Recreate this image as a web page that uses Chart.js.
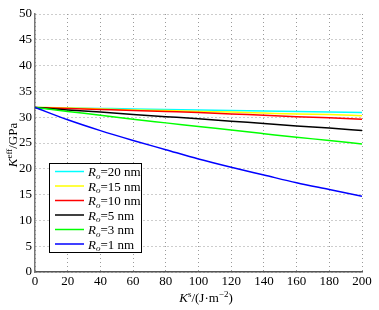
<!DOCTYPE html>
<html>
<head>
<meta charset="utf-8">
<script src="https://cdn.jsdelivr.net/npm/chart.js@4"></script>
<style>
  html, body { margin: 0; padding: 0; background: #fff; }
  #wrap { width: 379px; height: 310px; }
</style>
</head>
<body>
<div id="wrap"><canvas id="chart" width="379" height="310"></canvas></div>
<script>
  // surface energy K^s (J/m^2)
  var ksValues = [0, 20, 40, 60, 80, 100, 120, 140, 160, 180, 200];
  var radii = [20, 15, 10, 5, 3, 1]; // R_o in nm
  var colors = ['#00FFFF', '#FFFF00', '#FF0000', '#000000', '#00FF00', '#0000FF'];

  // K^eff in GPa
  var keffR20 = [31.9, 31.8, 31.7, 31.6, 31.5, 31.4, 31.3, 31.2, 31.1, 31.0, 30.9];
  var keffR15 = [31.9, 31.8, 31.6, 31.4, 31.3, 31.1, 31.0, 30.8, 30.6, 30.5, 30.3];
  var keffR10 = [31.9, 31.7, 31.5, 31.3, 31.1, 30.9, 30.6, 30.4, 30.1, 29.9, 29.6];
  var keffR5  = [31.9, 31.4, 31.0, 30.5, 30.1, 29.7, 29.2, 28.8, 28.3, 27.9, 27.4];
  var keffR3  = [31.9, 31.1, 30.4, 29.6, 28.9, 28.2, 27.5, 26.8, 26.1, 25.5, 24.8];
  var keffR1  = [31.9, 29.5, 27.4, 25.5, 23.7, 21.9, 20.3, 18.8, 17.3, 16.0, 14.7];

  var seriesList = [keffR20, keffR15, keffR10, keffR5, keffR3, keffR1];

  var serif = '"Liberation Serif", "DejaVu Serif", serif';

  var datasets = seriesList.map(function (vals, i) {
    return {
      label: 'Ro=' + radii[i] + ' nm',
      data: vals.map(function (v, j) { return { x: ksValues[j], y: v }; }),
      borderColor: colors[i],
      backgroundColor: colors[i],
      borderWidth: 1.5,
      pointRadius: 0,
      tension: 0.3,
      cubicInterpolationMode: 'monotone',
      fill: false,
      order: 6 - i
    };
  });

  // legend drawn inside the plot, MATLAB style
  var insideLegend = {
    id: 'insideLegend',
    afterDatasetsDraw: function (chart) {
      var ctx = chart.ctx;
      var x0 = 49, y0 = 163, w = 92, h = 89;
      ctx.save();
      ctx.fillStyle = '#fff';
      ctx.fillRect(x0, y0, w, h);
      ctx.strokeStyle = '#000';
      ctx.lineWidth = 1;
      ctx.strokeRect(x0 + 0.5, y0 + 0.5, w, h);
      ctx.textBaseline = 'alphabetic';
      chart.data.datasets.forEach(function (ds, i) {
        var yc = 171.5 + i * 14.5;
        ctx.strokeStyle = ds.borderColor;
        ctx.lineWidth = 1.5;
        ctx.beginPath();
        ctx.moveTo(55, yc);
        ctx.lineTo(84, yc);
        ctx.stroke();
        var tx = 88, by = yc + 4.5;
        ctx.fillStyle = '#000';
        ctx.font = 'italic 13px ' + serif;
        ctx.fillText('R', tx, by);
        tx += ctx.measureText('R').width;
        ctx.font = 'italic 9px ' + serif;
        ctx.fillText('o', tx, by + 2.5);
        tx += ctx.measureText('o').width;
        ctx.font = '13px ' + serif;
        ctx.fillText('=' + radii[i] + ' nm', tx, by);
      });
      ctx.restore();
    }
  };

  // axis titles with italic symbol and superscripts
  var axisTitles = {
    id: 'axisTitles',
    afterDraw: function (chart) {
      var ctx = chart.ctx;
      ctx.save();
      ctx.fillStyle = '#000';
      ctx.textBaseline = 'alphabetic';

      // x title: K^s/(J·m^-2)
      var parts = [
        { t: 'K', f: 'italic 13px ', dy: 0 },
        { t: 's', f: '9px ', dy: -5 },
        { t: '/(J\u00B7m', f: '13px ', dy: 0 },
        { t: '\u22122', f: '9px ', dy: -5 },
        { t: ')', f: '13px ', dy: 0 }
      ];
      var total = 0;
      parts.forEach(function (p) { ctx.font = p.f + serif; total += ctx.measureText(p.t).width; });
      var x = 206 - total / 2, y = 302;
      parts.forEach(function (p) {
        ctx.font = p.f + serif;
        ctx.fillText(p.t, x, y + p.dy);
        x += ctx.measureText(p.t).width;
      });

      // y title: K^eff/GPa, rotated
      var yparts = [
        { t: 'K', f: 'italic 13px ', dy: 0 },
        { t: 'eff', f: '9px ', dy: -5 },
        { t: '/GPa', f: '13px ', dy: 0 }
      ];
      total = 0;
      yparts.forEach(function (p) { ctx.font = p.f + serif; total += ctx.measureText(p.t).width; });
      ctx.translate(17, 145);
      ctx.rotate(-Math.PI / 2);
      x = -total / 2;
      yparts.forEach(function (p) {
        ctx.font = p.f + serif;
        ctx.fillText(p.t, x, p.dy);
        x += ctx.measureText(p.t).width;
      });
      ctx.restore();
    }
  };

  var ctx = document.getElementById('chart');
  var chart = new Chart(ctx, {
    type: 'line',
    data: { datasets: datasets },
    plugins: [insideLegend, axisTitles],
    options: {
      responsive: false,
      animation: false,
      layout: { padding: { left: 0, right: 17, top: 14, bottom: 0 } },
      plugins: {
        legend: { display: false },
        tooltip: { enabled: false },
        title: { display: false }
      },
      scales: {
        x: {
          type: 'linear',
          min: 0,
          max: 200,
          ticks: { stepSize: 20, color: '#000', padding: 2, maxRotation: 0, font: { family: serif, size: 13 } },
          grid: { color: '#9a9a9a', lineWidth: 1, drawTicks: false },
          border: { display: true, color: '#555', width: 1.5, dash: [1, 3] },
          afterFit: function (scale) { scale.height = 38; }
        },
        y: {
          min: 0,
          max: 50,
          ticks: { stepSize: 5, color: '#000', padding: 3, font: { family: serif, size: 13 } },
          grid: { color: '#9a9a9a', lineWidth: 1, drawTicks: false },
          border: { display: true, color: '#777', width: 1.5, dash: [1, 3] },
          afterFit: function (scale) { scale.width = 35; }
        }
      }
    }
  });
</script>
</body>
</html>
